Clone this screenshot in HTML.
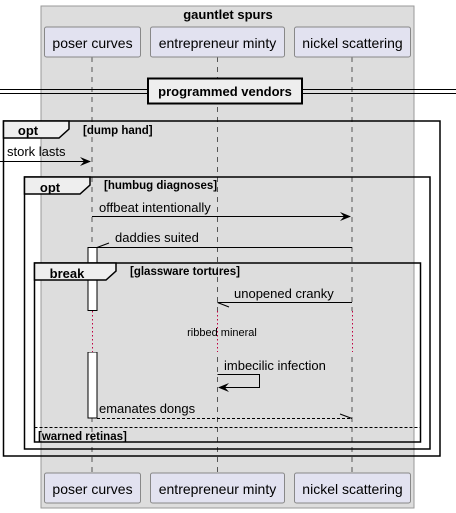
<!DOCTYPE html>
<html><head><meta charset="utf-8"><style>
html,body{margin:0;padding:0;background:#fff;}
svg{display:block;font-family:"Liberation Sans",sans-serif;}
</style></head><body>
<svg width="456" height="513" viewBox="0 0 456 513" xmlns="http://www.w3.org/2000/svg">
<rect x="41" y="6" width="373" height="502" fill="#DDDDDD" stroke="#999" stroke-width="1"/>
<text x="228" y="19" font-size="13" font-weight="bold" text-anchor="middle">gauntlet spurs</text>
<g stroke="#555" stroke-dasharray="5,5" stroke-width="1">
<line x1="92" y1="57" x2="92" y2="473"/>
<line x1="217.5" y1="57" x2="217.5" y2="473"/>
<line x1="352" y1="57" x2="352" y2="473"/>
</g>
<g fill="#E2E2F0" stroke="#888" stroke-width="1">
<rect x="44.5" y="27" width="96" height="30" rx="2"/>
<rect x="150.5" y="27" width="134" height="30" rx="2"/>
<rect x="294.5" y="27" width="116" height="30" rx="2"/>
<rect x="44.5" y="473" width="96" height="30" rx="2"/>
<rect x="150.5" y="473" width="134" height="30" rx="2"/>
<rect x="294.5" y="473" width="116" height="30" rx="2"/>
</g>
<g font-size="14" text-anchor="middle" fill="#000">
<text x="92.5" y="48">poser curves</text>
<text x="217.5" y="48">entrepreneur minty</text>
<text x="352.5" y="48">nickel scattering</text>
<text x="92.5" y="494">poser curves</text>
<text x="217.5" y="494">entrepreneur minty</text>
<text x="352.5" y="494">nickel scattering</text>
</g>
<line x1="0" y1="89.5" x2="456" y2="89.5" stroke="#000"/>
<line x1="0" y1="93.5" x2="456" y2="93.5" stroke="#000"/>
<rect x="148" y="78.5" width="154" height="25" fill="#EEEEEE" stroke="#000" stroke-width="2"/>
<text x="225" y="96" font-size="13" font-weight="bold" text-anchor="middle">programmed vendors</text>
<rect x="3.5" y="121" width="436.5" height="335" fill="none" stroke="#000" stroke-width="1.5"/>
<path d="M3.5 121 H69 V129 L59 138 H3.5 Z" fill="#EEEEEE" stroke="#000" stroke-width="1.5"/>
<text x="28" y="135" font-size="13" font-weight="bold" text-anchor="middle">opt</text>
<text x="83" y="134" font-size="11.5" font-weight="bold">[dump hand]</text>
<text x="7" y="156" font-size="13">stork lasts</text>
<line x1="0" y1="161.5" x2="90" y2="161.5" stroke="#000"/>
<path d="M80 157 L91 161.5 L80 166 L84 161.5 Z" fill="#000"/>
<rect x="24.5" y="177" width="405.5" height="272" fill="none" stroke="#000" stroke-width="1.5"/>
<path d="M24.5 177 H90 V185 L80 194 H24.5 Z" fill="#EEEEEE" stroke="#000" stroke-width="1.5"/>
<text x="50" y="192" font-size="13" font-weight="bold" text-anchor="middle">opt</text>
<text x="104" y="189" font-size="11.5" font-weight="bold">[humbug diagnoses]</text>
<text x="99" y="212" font-size="13">offbeat intentionally</text>
<line x1="92" y1="216.5" x2="350" y2="216.5" stroke="#000"/>
<path d="M340 212 L351 216.5 L340 221 L344 216.5 Z" fill="#000"/>
<text x="115" y="242" font-size="13">daddies suited</text>
<line x1="97" y1="247.5" x2="352" y2="247.5" stroke="#000"/>
<line x1="97" y1="247.5" x2="109" y2="243" stroke="#000"/>
<rect x="88" y="247.5" width="9" height="63" fill="#fff" stroke="#000"/>
<rect x="88" y="352" width="9" height="66" fill="#fff" stroke="#000"/>
<rect x="34.5" y="263" width="386" height="179" fill="none" stroke="#000" stroke-width="1.5"/>
<path d="M34.5 263 H116 V271 L106 280 H34.5 Z" fill="#EEEEEE" stroke="#000" stroke-width="1.5"/>
<text x="67" y="278" font-size="13" font-weight="bold" text-anchor="middle">break</text>
<text x="130" y="275" font-size="11.5" font-weight="bold">[glassware tortures]</text>
<text x="234" y="298" font-size="13">unopened cranky</text>
<line x1="217.5" y1="302.5" x2="352" y2="302.5" stroke="#000"/>
<line x1="217.5" y1="302.5" x2="229" y2="307" stroke="#000"/>
<rect x="86" y="311" width="270" height="41" fill="#DDDDDD"/>
<g stroke="#C00040" stroke-dasharray="1.5,2.5" stroke-width="1">
<line x1="92.5" y1="311" x2="92.5" y2="352"/>
<line x1="217.5" y1="311" x2="217.5" y2="352"/>
<line x1="352.5" y1="311" x2="352.5" y2="352"/>
</g>
<text x="222" y="336" font-size="11" text-anchor="middle">ribbed mineral</text>
<text x="224" y="370" font-size="13">imbecilic infection</text>
<path d="M217.5 374.5 H259.5 V387.5 H219" fill="none" stroke="#000"/>
<path d="M229 383 L218 387.5 L229 392 L225 387.5 Z" fill="#000"/>
<text x="99" y="413" font-size="13">emanates dongs</text>
<line x1="97" y1="418.5" x2="352" y2="418.5" stroke="#000" stroke-dasharray="3,2"/>
<line x1="340" y1="414" x2="352" y2="418.5" stroke="#000"/>
<line x1="34.5" y1="427.5" x2="420.5" y2="427.5" stroke="#000" stroke-dasharray="3,2"/>
<text x="38" y="440" font-size="11.5" font-weight="bold">[warned retinas]</text>
</svg>
</body></html>
